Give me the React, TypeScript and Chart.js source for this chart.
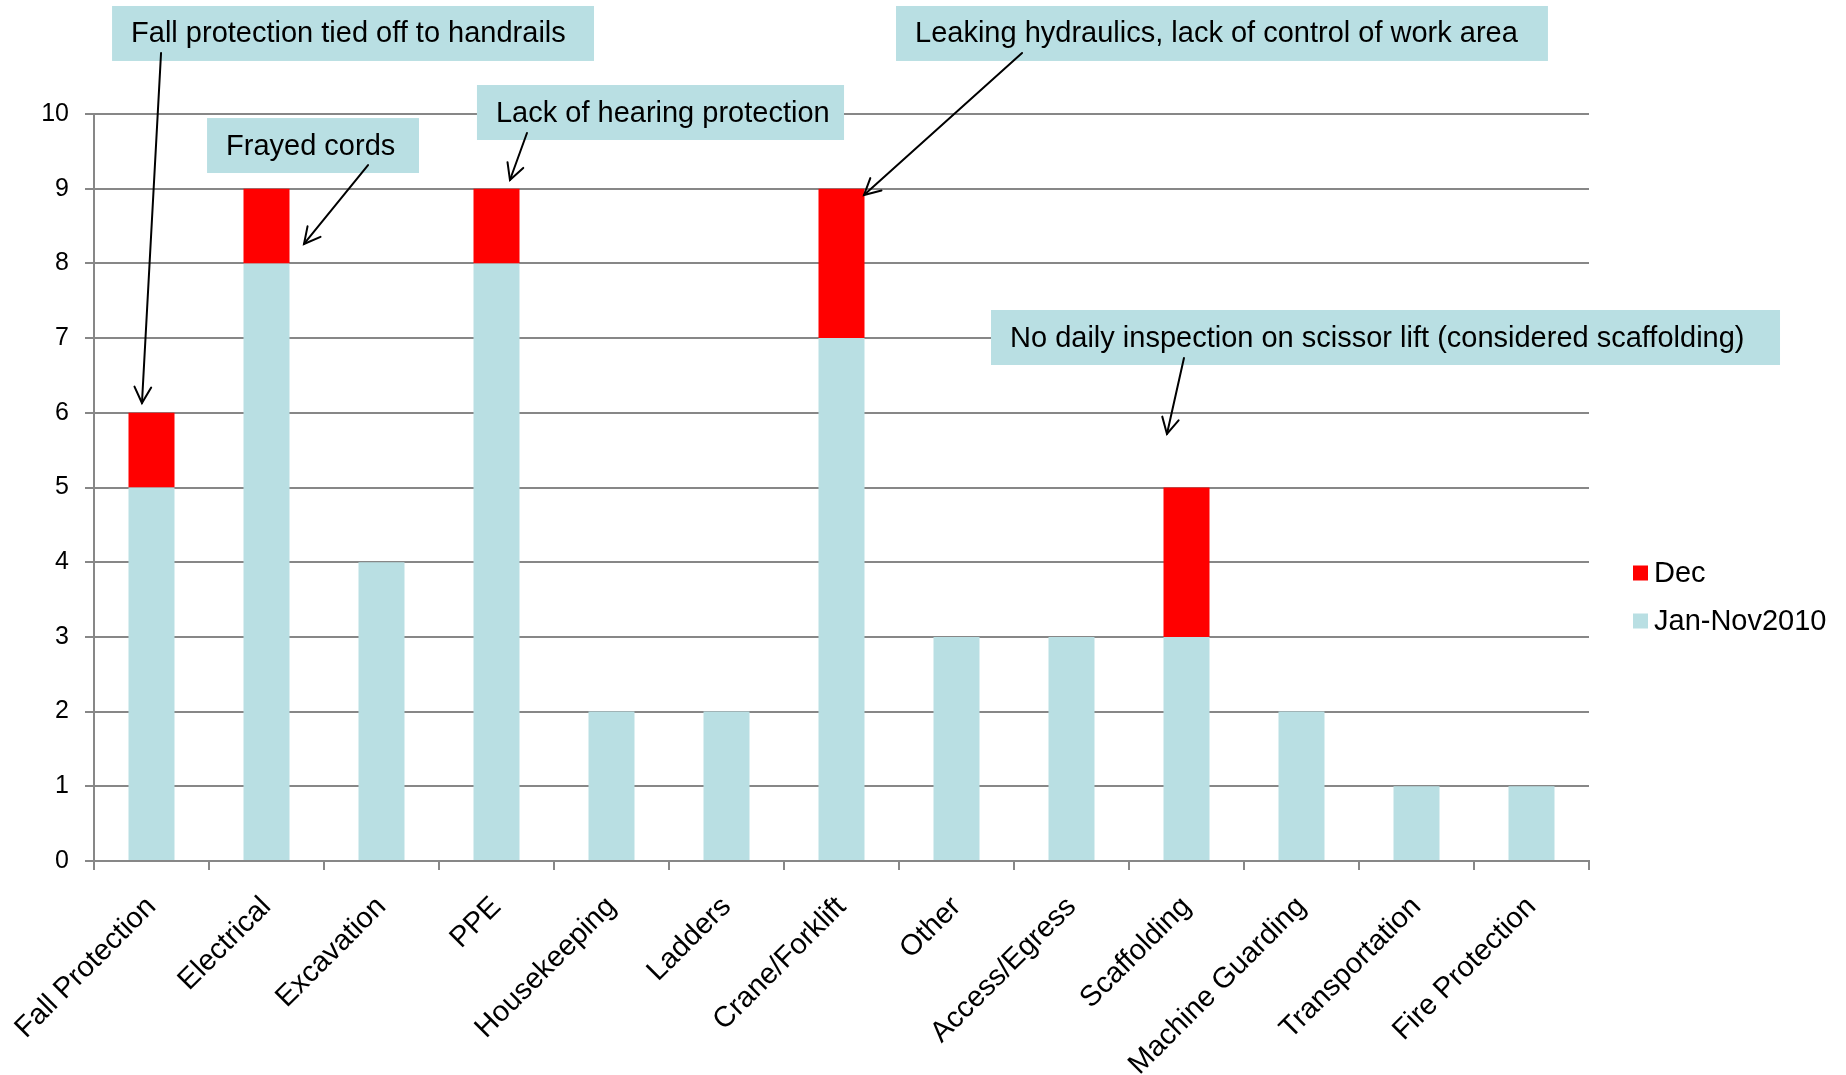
import React, { useEffect, useRef } from "react";
import { Chart, registerables } from "chart.js";

Chart.register(...registerables);

// ---------- data ----------
const categories = [
  "Fall Protection",
  "Electrical",
  "Excavation",
  "PPE",
  "Housekeeping",
  "Ladders",
  "Crane/Forklift",
  "Other",
  "Access/Egress",
  "Scaffolding",
  "Machine Guarding",
  "Transportation",
  "Fire Protection",
];
const janNov2010 = [5, 8, 4, 8, 2, 2, 7, 3, 3, 3, 2, 1, 1];
const december = [1, 1, 0, 1, 0, 0, 2, 0, 0, 2, 0, 0, 0];
const seriesNames = ["Jan-Nov2010", "Dec"];
const yMin = 0;
const yMax = 10;
const yStep = 1;

// ---------- annotations (x in category-index units, y in value units) ----------
const noteTexts = [
  "Fall protection tied off to handrails",
  "Frayed cords",
  "Lack of hearing protection",
  "Leaking hydraulics, lack of control of work area",
  "No daily inspection on scissor lift (considered scaffolding)",
];
// box: [left, top, right, bottom]
const noteBoxes: number[][] = [
  [-0.343, 11.446, 3.848, 10.71],
  [0.483, 9.946, 2.326, 9.21],
  [2.83, 10.388, 6.022, 9.652],
  [6.474, 11.446, 12.143, 10.71],
  [7.3, 7.376, 14.161, 6.64],
];
// arrow: [fromX, fromY, toX, toY]
const noteArrows: number[][] = [
  [0.083, 10.817, -0.083, 6.131],
  [1.883, 9.317, 1.326, 8.26],
  [3.265, 9.746, 3.117, 9.116],
  [7.57, 10.817, 6.196, 8.916],
  [8.978, 6.734, 8.83, 5.716],
];

// ---------- styles ----------
const FONT = "'Liberation Sans', Arial, Helvetica, sans-serif";
const TEAL = "#B9DFE3";
const RED = "#FF0000";
const GRID = "#878787";

function drawArrow(ctx: CanvasRenderingContext2D, x1: number, y1: number, x2: number, y2: number) {
  ctx.beginPath();
  ctx.moveTo(x1, y1);
  ctx.lineTo(x2, y2);
  ctx.stroke();
  const a = Math.atan2(y2 - y1, x2 - x1);
  const L = 18;
  const w = Math.PI / 6.5;
  ctx.beginPath();
  ctx.moveTo(x2 - L * Math.cos(a - w), y2 - L * Math.sin(a - w));
  ctx.lineTo(x2, y2);
  ctx.lineTo(x2 - L * Math.cos(a + w), y2 - L * Math.sin(a + w));
  ctx.stroke();
}

const annotationPlugin = {
  id: "calloutNotes",
  afterDraw(chart: any) {
    const { ctx } = chart;
    const xs = chart.scales.x;
    const ys = chart.scales.y;
    ctx.save();
    ctx.font = `29px ${FONT}`;
    ctx.textBaseline = "middle";
    ctx.textAlign = "left";
    noteTexts.forEach((t, i) => {
      const b = noteBoxes[i];
      const l = xs.getPixelForValue(b[0]);
      const r = xs.getPixelForValue(b[2]);
      const tp = ys.getPixelForValue(b[1]);
      const bt = ys.getPixelForValue(b[3]);
      ctx.fillStyle = TEAL;
      ctx.fillRect(l, tp, r - l, bt - tp);
      ctx.fillStyle = "#000";
      ctx.fillText(t, l + 19, (tp + bt) / 2 + 1);
    });
    ctx.strokeStyle = "#000";
    ctx.lineWidth = 2;
    ctx.lineCap = "round";
    noteArrows.forEach((a) => {
      drawArrow(
        ctx,
        xs.getPixelForValue(a[0]),
        ys.getPixelForValue(a[1]),
        xs.getPixelForValue(a[2]),
        ys.getPixelForValue(a[3])
      );
    });

    // legend (reverse order like the original)
    const area = chart.chartArea;
    const sets = chart.data.datasets.slice().reverse();
    ctx.font = `29px ${FONT}`;
    sets.forEach((ds: any, i: number) => {
      const cy = area.top + 459 + i * 48;
      const bx = area.right + 44;
      ctx.fillStyle = ds.backgroundColor;
      ctx.fillRect(bx, cy - 7.5, 15, 15);
      ctx.fillStyle = "#000";
      ctx.fillText(ds.label, bx + 21, cy + 1);
    });
    ctx.restore();
  },
};

export default function App() {
  const ref = useRef<HTMLCanvasElement | null>(null);

  useEffect(() => {
    if (!ref.current) return;
    const chart = new Chart(ref.current, {
      type: "bar",
      data: {
        labels: categories,
        datasets: [
          {
            label: seriesNames[0],
            data: janNov2010,
            backgroundColor: TEAL,
            borderWidth: 0,
            barPercentage: 0.4,
            categoryPercentage: 1,
          },
          {
            label: seriesNames[1],
            data: december,
            backgroundColor: RED,
            borderWidth: 0,
            barPercentage: 0.4,
            categoryPercentage: 1,
          },
        ],
      },
      options: {
        responsive: false,
        animation: false,
        layout: { padding: { top: 114, right: 257, bottom: 0, left: 0 } },
        plugins: {
          legend: { display: false },
          tooltip: { enabled: false },
        },
        scales: {
          x: {
            stacked: true,
            offset: true,
            grid: {
              display: true,
              drawOnChartArea: false,
              drawTicks: true,
              tickLength: 9,
              offset: true,
              color: GRID,
              lineWidth: 2,
            },
            border: { display: true, color: GRID, width: 2 },
            ticks: {
              autoSkip: false,
              maxRotation: 45,
              minRotation: 45,
              padding: 20,
              color: "#000",
              font: { family: FONT, size: 29 },
            },
            afterFit: (s: any) => {
              s.height = 214;
              s.paddingLeft = 0;
              s.paddingRight = 0;
            },
          },
          y: {
            stacked: true,
            min: yMin,
            max: yMax,
            ticks: {
              stepSize: yStep,
              padding: 16,
              color: "#000",
              font: { family: FONT, size: 25 },
            },
            grid: {
              color: GRID,
              lineWidth: 2,
              tickLength: 9,
              drawTicks: true,
            },
            border: { display: true, color: GRID, width: 2 },
            afterFit: (s: any) => {
              s.width = 94;
              s.paddingTop = 0;
              s.paddingBottom = 0;
            },
          },
        },
      },
      plugins: [annotationPlugin],
    });
    return () => chart.destroy();
  }, []);

  return (
    <div style={{ position: "absolute", left: 0, top: 0, width: 1846, height: 1075, background: "#fff" }}>
      <canvas ref={ref} width={1846} height={1075} style={{ display: "block" }} />
    </div>
  );
}
